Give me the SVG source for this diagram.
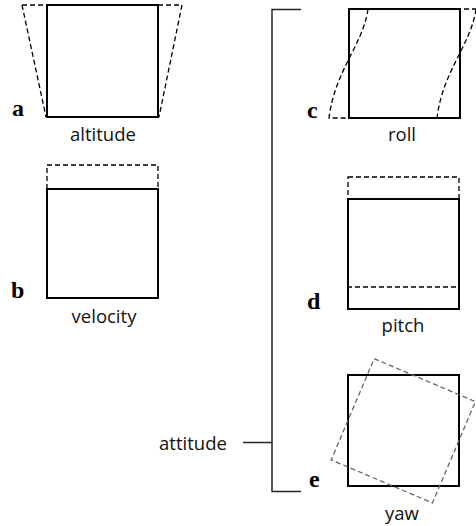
<svg xmlns="http://www.w3.org/2000/svg" width="476" height="526" viewBox="0 0 476 526">
<style>
.solid{fill:none;stroke:#000;stroke-width:2}
.dash{fill:none;stroke:#000;stroke-width:1.3;stroke-dasharray:5,3}
.gdash{fill:none;stroke:#666;stroke-width:1.3;stroke-dasharray:5,3}
.lbl{font-family:"Open Sans","Noto Sans",sans-serif;font-size:18.5px;fill:#111;text-anchor:middle}
.let{font-family:"Liberation Serif","Times New Roman",serif;font-size:24px;font-weight:bold;fill:#000}
.br{fill:none;stroke:#222;stroke-width:1.5}
</style>
<rect width="476" height="526" fill="#fff"/>
<g id="connectors">
<polyline class="br" points="301,9.5 272,9.5 272,491.5 301,491.5"/>
<line class="br" x1="243" y1="442.5" x2="272" y2="442.5"/>
</g>
<g id="node-a">
<path class="dash" d="M22,5 L182,5 L159,117 M22,5 L46,117"/>
<rect class="solid" x="47" y="5" width="111" height="112"/>
<text class="let" x="12" y="116">a</text>
<text class="lbl" x="103" y="141">altitude</text>
</g>
<g id="node-b">
<rect class="dash" x="47" y="165" width="111" height="133"/>
<rect class="solid" x="47" y="189" width="111" height="109"/>
<text class="let" x="11" y="298">b</text>
<text class="lbl" x="104" y="323">velocity</text>
</g>
<g id="node-c">
<path class="dash" d="M368,9 L476,9 M368,9 C363,45 335,70 329,118 L349,118 M476,9 C471,45 443,70 437,118"/>
<rect class="solid" x="349" y="9" width="111" height="109"/>
<text class="let" x="307" y="118">c</text>
<text class="lbl" x="402" y="141">roll</text>
</g>
<g id="node-d">
<rect class="dash" x="348" y="177" width="111" height="110"/>
<rect class="solid" x="348" y="199" width="111" height="110"/>
<text class="let" x="307" y="309">d</text>
<text class="lbl" x="403" y="332">pitch</text>
</g>
<g id="node-e">
<rect class="solid" x="348" y="375" width="111" height="111"/>
<rect class="gdash" x="348.3" y="375.8" width="110" height="110" transform="rotate(23 403.3 430.8)"/>
<text class="let" x="309" y="487">e</text>
<text class="lbl" x="402" y="520">yaw</text>
</g>
<g id="node-attitude">
<text class="lbl" x="193" y="450">attitude</text>
</g>
</svg>
